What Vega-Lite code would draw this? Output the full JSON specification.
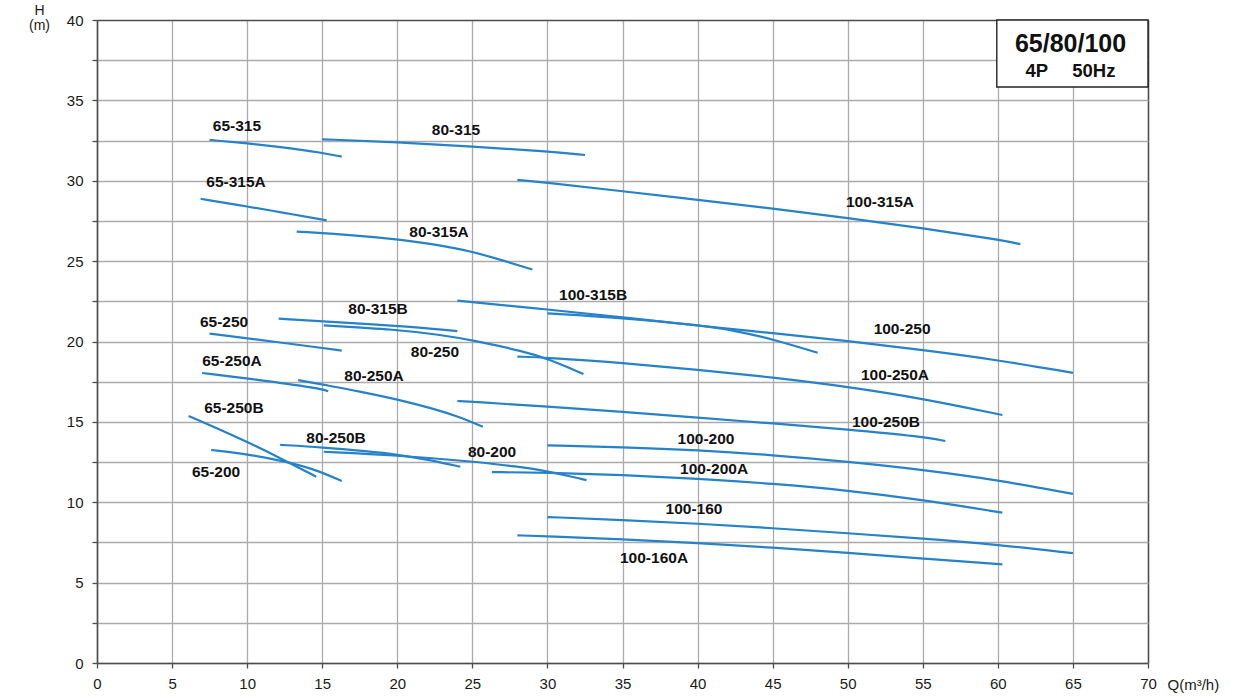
{
  "$schema": "https://vega.github.io/schema/vega-lite/v6.json",
  "width": 1051,
  "height": 643,
  "autosize": {"type": "none"},
  "padding": {"left": 97, "top": 20, "right": 104, "bottom": 34},
  "background": "white",
  "config": {
    "view": {"stroke": null},
    "font": "Liberation Sans",
    "axis": {
      "labelFont": "Liberation Sans",
      "titleFont": "Liberation Sans",
      "labelFontSize": 15,
      "labelColor": "#1a1a1a",
      "titleColor": "#1a1a1a",
      "domainColor": "#4d4d4d",
      "domainWidth": 1.6,
      "tickColor": "#4d4d4d",
      "tickWidth": 1.3,
      "tickSize": 5,
      "gridWidth": 1.3
    }
  },
  "datasets": {
    "curves": [
      {"curve": "65-315", "q": 7.5, "h": 32.54}, {"curve": "65-315", "q": 10, "h": 32.33}, {"curve": "65-315", "q": 12.5, "h": 32.07}, {"curve": "65-315", "q": 15, "h": 31.74}, {"curve": "65-315", "q": 16.3, "h": 31.5},
      {"curve": "80-315", "q": 15, "h": 32.58}, {"curve": "80-315", "q": 20, "h": 32.4}, {"curve": "80-315", "q": 25, "h": 32.13}, {"curve": "80-315", "q": 30, "h": 31.83}, {"curve": "80-315", "q": 32.5, "h": 31.6},
      {"curve": "100-315A", "q": 28, "h": 30.05}, {"curve": "100-315A", "q": 30, "h": 29.88}, {"curve": "100-315A", "q": 35, "h": 29.35}, {"curve": "100-315A", "q": 40, "h": 28.81}, {"curve": "100-315A", "q": 45, "h": 28.27}, {"curve": "100-315A", "q": 50, "h": 27.69}, {"curve": "100-315A", "q": 55, "h": 27.04}, {"curve": "100-315A", "q": 60, "h": 26.35}, {"curve": "100-315A", "q": 61.5, "h": 26.06},
      {"curve": "65-315A", "q": 6.9, "h": 28.88}, {"curve": "65-315A", "q": 10, "h": 28.4}, {"curve": "65-315A", "q": 12.5, "h": 28.0}, {"curve": "65-315A", "q": 15.3, "h": 27.54},
      {"curve": "80-315A", "q": 13.3, "h": 26.83}, {"curve": "80-315A", "q": 15, "h": 26.77}, {"curve": "80-315A", "q": 20, "h": 26.38}, {"curve": "80-315A", "q": 22.5, "h": 26.05}, {"curve": "80-315A", "q": 25, "h": 25.6}, {"curve": "80-315A", "q": 27, "h": 25.05}, {"curve": "80-315A", "q": 29, "h": 24.48},
      {"curve": "100-250", "q": 24, "h": 22.54}, {"curve": "100-250", "q": 30, "h": 22.0}, {"curve": "100-250", "q": 35, "h": 21.5}, {"curve": "100-250", "q": 40, "h": 20.99}, {"curve": "100-250", "q": 45, "h": 20.52}, {"curve": "100-250", "q": 50, "h": 20.03}, {"curve": "100-250", "q": 55, "h": 19.47}, {"curve": "100-250", "q": 60, "h": 18.85}, {"curve": "100-250", "q": 65, "h": 18.05},
      {"curve": "100-315B", "q": 30, "h": 21.75}, {"curve": "100-315B", "q": 35, "h": 21.47}, {"curve": "100-315B", "q": 40, "h": 21.03}, {"curve": "100-315B", "q": 42.5, "h": 20.68}, {"curve": "100-315B", "q": 45, "h": 20.15}, {"curve": "100-315B", "q": 48, "h": 19.3},
      {"curve": "80-315B", "q": 12.1, "h": 21.42}, {"curve": "80-315B", "q": 15, "h": 21.25}, {"curve": "80-315B", "q": 20, "h": 20.98}, {"curve": "80-315B", "q": 24, "h": 20.65},
      {"curve": "80-250", "q": 15.1, "h": 21.0}, {"curve": "80-250", "q": 20, "h": 20.74}, {"curve": "80-250", "q": 22.8, "h": 20.42}, {"curve": "80-250", "q": 25, "h": 20.09}, {"curve": "80-250", "q": 28.5, "h": 19.37}, {"curve": "80-250", "q": 30, "h": 18.93}, {"curve": "80-250", "q": 32.4, "h": 17.98},
      {"curve": "65-250", "q": 7.5, "h": 20.49}, {"curve": "65-250", "q": 10, "h": 20.2}, {"curve": "65-250", "q": 15, "h": 19.6}, {"curve": "65-250", "q": 16.3, "h": 19.43},
      {"curve": "100-250A", "q": 28, "h": 19.06}, {"curve": "100-250A", "q": 30, "h": 19.0}, {"curve": "100-250A", "q": 35, "h": 18.67}, {"curve": "100-250A", "q": 40, "h": 18.25}, {"curve": "100-250A", "q": 45, "h": 17.77}, {"curve": "100-250A", "q": 50, "h": 17.19}, {"curve": "100-250A", "q": 55, "h": 16.45}, {"curve": "100-250A", "q": 60.3, "h": 15.43},
      {"curve": "65-250A", "q": 7, "h": 18.04}, {"curve": "65-250A", "q": 10, "h": 17.71}, {"curve": "65-250A", "q": 15, "h": 17.07}, {"curve": "65-250A", "q": 15.4, "h": 16.9},
      {"curve": "80-250A", "q": 13.4, "h": 17.6}, {"curve": "80-250A", "q": 15, "h": 17.32}, {"curve": "80-250A", "q": 17.5, "h": 16.9}, {"curve": "80-250A", "q": 20, "h": 16.4}, {"curve": "80-250A", "q": 22.5, "h": 15.8}, {"curve": "80-250A", "q": 24, "h": 15.35}, {"curve": "80-250A", "q": 25.7, "h": 14.7},
      {"curve": "100-250B", "q": 24, "h": 16.3}, {"curve": "100-250B", "q": 25, "h": 16.25}, {"curve": "100-250B", "q": 30, "h": 15.95}, {"curve": "100-250B", "q": 35, "h": 15.62}, {"curve": "100-250B", "q": 40, "h": 15.27}, {"curve": "100-250B", "q": 45, "h": 14.9}, {"curve": "100-250B", "q": 50, "h": 14.54}, {"curve": "100-250B", "q": 55, "h": 14.08}, {"curve": "100-250B", "q": 56.5, "h": 13.81},
      {"curve": "65-250B", "q": 6.1, "h": 15.37}, {"curve": "65-250B", "q": 8, "h": 14.6}, {"curve": "65-250B", "q": 10, "h": 13.75}, {"curve": "65-250B", "q": 12, "h": 12.85}, {"curve": "65-250B", "q": 14.6, "h": 11.59},
      {"curve": "65-200", "q": 7.6, "h": 13.25}, {"curve": "65-200", "q": 10, "h": 13.0}, {"curve": "65-200", "q": 12.5, "h": 12.55}, {"curve": "65-200", "q": 14.5, "h": 12.05}, {"curve": "65-200", "q": 16.3, "h": 11.32},
      {"curve": "80-250B", "q": 12.2, "h": 13.57}, {"curve": "80-250B", "q": 15, "h": 13.42}, {"curve": "80-250B", "q": 18, "h": 13.17}, {"curve": "80-250B", "q": 20, "h": 12.97}, {"curve": "80-250B", "q": 22, "h": 12.66}, {"curve": "80-250B", "q": 24.2, "h": 12.21},
      {"curve": "80-200", "q": 15.1, "h": 13.14}, {"curve": "80-200", "q": 20, "h": 12.92}, {"curve": "80-200", "q": 25, "h": 12.54}, {"curve": "80-200", "q": 28, "h": 12.22}, {"curve": "80-200", "q": 30, "h": 11.94}, {"curve": "80-200", "q": 32.6, "h": 11.38},
      {"curve": "100-200", "q": 30, "h": 13.54}, {"curve": "100-200", "q": 35, "h": 13.43}, {"curve": "100-200", "q": 40, "h": 13.25}, {"curve": "100-200", "q": 45, "h": 12.94}, {"curve": "100-200", "q": 50, "h": 12.52}, {"curve": "100-200", "q": 55, "h": 12.02}, {"curve": "100-200", "q": 60, "h": 11.38}, {"curve": "100-200", "q": 65, "h": 10.52},
      {"curve": "100-200A", "q": 26.3, "h": 11.88}, {"curve": "100-200A", "q": 30, "h": 11.84}, {"curve": "100-200A", "q": 35, "h": 11.7}, {"curve": "100-200A", "q": 40, "h": 11.47}, {"curve": "100-200A", "q": 45, "h": 11.16}, {"curve": "100-200A", "q": 50, "h": 10.74}, {"curve": "100-200A", "q": 55, "h": 10.15}, {"curve": "100-200A", "q": 60.3, "h": 9.35},
      {"curve": "100-160", "q": 30, "h": 9.08}, {"curve": "100-160", "q": 35, "h": 8.9}, {"curve": "100-160", "q": 40, "h": 8.67}, {"curve": "100-160", "q": 45, "h": 8.39}, {"curve": "100-160", "q": 50, "h": 8.07}, {"curve": "100-160", "q": 55, "h": 7.75}, {"curve": "100-160", "q": 60, "h": 7.36}, {"curve": "100-160", "q": 65, "h": 6.83},
      {"curve": "100-160A", "q": 28, "h": 7.94}, {"curve": "100-160A", "q": 30, "h": 7.89}, {"curve": "100-160A", "q": 35, "h": 7.7}, {"curve": "100-160A", "q": 40, "h": 7.46}, {"curve": "100-160A", "q": 45, "h": 7.18}, {"curve": "100-160A", "q": 50, "h": 6.86}, {"curve": "100-160A", "q": 55, "h": 6.5}, {"curve": "100-160A", "q": 60.3, "h": 6.13}
    ],
    "labels": [
      {"label": "65-315", "q": 9.32, "h": 33.41},
      {"label": "80-315", "q": 23.91, "h": 33.16},
      {"label": "65-315A", "q": 9.26, "h": 29.92},
      {"label": "80-315A", "q": 22.78, "h": 26.81},
      {"label": "100-315A", "q": 52.15, "h": 28.68},
      {"label": "100-315B", "q": 33.04, "h": 22.89},
      {"label": "100-250", "q": 53.62, "h": 20.78},
      {"label": "80-315B", "q": 18.72, "h": 22.02},
      {"label": "65-250", "q": 8.46, "h": 21.21},
      {"label": "80-250", "q": 22.51, "h": 19.35},
      {"label": "65-250A", "q": 8.99, "h": 18.79},
      {"label": "80-250A", "q": 18.45, "h": 17.85},
      {"label": "100-250A", "q": 53.15, "h": 17.92},
      {"label": "65-250B", "q": 9.12, "h": 15.86},
      {"label": "100-250B", "q": 52.55, "h": 14.99},
      {"label": "80-250B", "q": 15.92, "h": 14.0},
      {"label": "80-200", "q": 26.31, "h": 13.13},
      {"label": "100-200", "q": 40.56, "h": 13.93},
      {"label": "100-200A", "q": 41.1, "h": 12.07},
      {"label": "65-200", "q": 7.93, "h": 11.88},
      {"label": "100-160", "q": 39.76, "h": 9.58},
      {"label": "100-160A", "q": 37.1, "h": 6.53}
    ],
    "box": [{"q1": 59.93, "q2": 70, "h1": 35.83, "h2": 40}],
    "boxTitle": [{"text": "65/80/100", "q": 64.84, "h": 38.52}],
    "boxSub": [{"text": "4P", "q": 62.59, "h": 36.84}, {"text": "50Hz", "q": 66.39, "h": 36.84}]
  },
  "layer": [
    {
      "data": {"name": "curves"},
      "mark": {"type": "line", "interpolate": "basis", "color": "#2682c9", "strokeWidth": 2.2},
      "encoding": {
        "x": {
          "field": "q", "type": "quantitative",
          "scale": {"domain": [0, 70], "nice": false, "zero": false},
          "axis": {
            "values": [0, 5, 10, 15, 20, 25, 30, 35, 40, 45, 50, 55, 60, 65, 70],
            "labelPadding": 8,
            "labelFlush": false,
            "gridColor": {"condition": {"test": "datum.value === 70", "value": "#4d4d4d"}, "value": "#ababab"},
            "gridWidth": {"condition": {"test": "datum.value === 70", "value": 1.6}, "value": 1.3},
            "title": "Q(m³/h)",
            "titleFontSize": 15,
            "titleFontWeight": "normal",
            "titleAngle": 0,
            "titleAlign": "left",
            "titleBaseline": "middle",
            "titleX": 1070,
            "titleY": 21
          }
        },
        "y": {
          "field": "h", "type": "quantitative",
          "scale": {"domain": [0, 40], "nice": false, "zero": false},
          "axis": {
            "values": [0, 2.5, 5, 7.5, 10, 12.5, 15, 17.5, 20, 22.5, 25, 27.5, 30, 32.5, 35, 37.5, 40],
            "labelExpr": "datum.value % 5 === 0 ? datum.label : ''",
            "labelPadding": 9,
            "labelFlush": false,
            "gridColor": {"condition": {"test": "datum.value === 40", "value": "#4d4d4d"}, "value": "#ababab"},
            "gridWidth": {"condition": {"test": "datum.value === 40", "value": 1.6}, "value": 1.3},
            "title": ["H", "(m)"],
            "titleFontSize": 14,
            "titleFontWeight": "normal",
            "titleAngle": 0,
            "titleAlign": "center",
            "titleBaseline": "top",
            "titleLineHeight": 15,
            "titleX": -58,
            "titleY": -17
          }
        },
        "detail": {"field": "curve", "type": "nominal"}
      }
    },
    {
      "data": {"name": "labels"},
      "mark": {"type": "text", "font": "Liberation Sans", "fontWeight": "bold", "fontSize": 15.5, "color": "#111111", "align": "center", "baseline": "middle"},
      "encoding": {
        "x": {"field": "q", "type": "quantitative"},
        "y": {"field": "h", "type": "quantitative"},
        "text": {"field": "label", "type": "nominal"}
      }
    },
    {
      "data": {"name": "box"},
      "mark": {"type": "rect", "fill": "white", "stroke": "#222222", "strokeWidth": 1.4},
      "encoding": {
        "x": {"field": "q1", "type": "quantitative"},
        "x2": {"field": "q2"},
        "y": {"field": "h1", "type": "quantitative"},
        "y2": {"field": "h2"}
      }
    },
    {
      "data": {"name": "boxTitle"},
      "mark": {"type": "text", "font": "Liberation Sans", "fontWeight": "bold", "fontSize": 25, "color": "#111111", "align": "center", "baseline": "middle"},
      "encoding": {
        "x": {"field": "q", "type": "quantitative"},
        "y": {"field": "h", "type": "quantitative"},
        "text": {"field": "text", "type": "nominal"}
      }
    },
    {
      "data": {"name": "boxSub"},
      "mark": {"type": "text", "font": "Liberation Sans", "fontWeight": "bold", "fontSize": 18.5, "color": "#111111", "align": "center", "baseline": "middle"},
      "encoding": {
        "x": {"field": "q", "type": "quantitative"},
        "y": {"field": "h", "type": "quantitative"},
        "text": {"field": "text", "type": "nominal"}
      }
    }
  ]
}
